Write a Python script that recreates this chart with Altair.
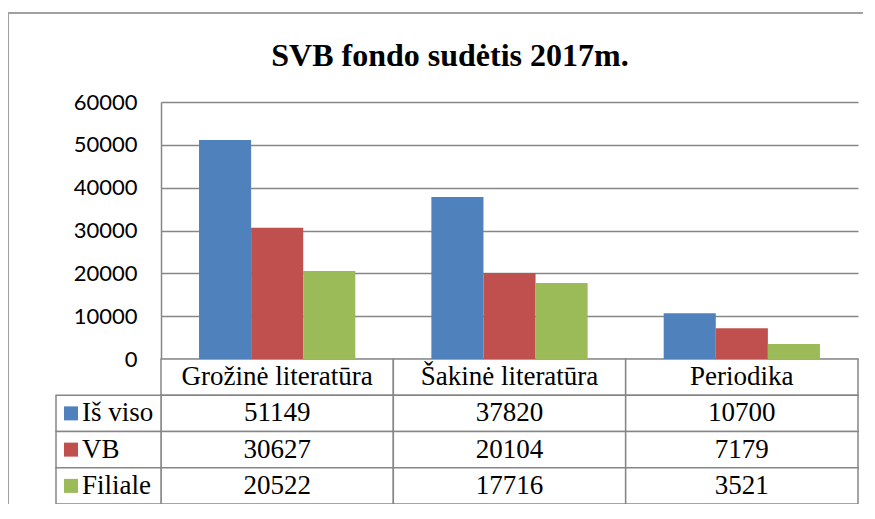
import altair as alt
import pandas as pd

title_text = "SVB fondo sudėtis 2017m."
categories = ["Grožinė literatūra", "Šakinė literatūra", "Periodika"]
series = ["Iš viso", "VB", "Filiale"]
is_viso = [51149, 37820, 10700]
vb = [30627, 20104, 7179]
filiale = [20522, 17716, 3521]
colors = ["#4f81bd", "#c0504d", "#9bbb59"]
y_ticks = [0, 10000, 20000, 30000, 40000, 50000, 60000]

rows = []
for s, vals in zip(series, [is_viso, vb, filiale]):
    for c, v in zip(categories, vals):
        rows.append({"cat": c, "series": s, "value": v})
df = pd.DataFrame(rows)

table_rows = []
for c in categories:
    table_rows.append({"cat": c, "row": "hdr", "label": c})
for r in rows:
    table_rows.append({"cat": r["cat"], "row": r["series"], "label": str(r["value"])})
tdf = pd.DataFrame(table_rows)
ldf = pd.DataFrame({"row": series, "label": series})

W, H = 697, 402
PLOT_H = 257
row_order = ["hdr"] + series
GRID = "#868686"
TFONT = "Liberation Serif"

x_enc = alt.X("cat:N", sort=categories,
              scale=alt.Scale(domain=categories, paddingInner=0, paddingOuter=0), axis=None)
y_tab = alt.Y("row:N", sort=row_order,
              scale=alt.Scale(type="band", domain=row_order, range=[PLOT_H, H],
                              paddingInner=0, paddingOuter=0), axis=None)

bars = alt.Chart(df).mark_bar().encode(
    x=x_enc,
    xOffset=alt.XOffset("series:N", sort=series,
                        scale=alt.Scale(domain=series, paddingOuter=0.73, paddingInner=0)),
    y=alt.Y("value:Q",
            scale=alt.Scale(domain=[0, 60000], range=[PLOT_H, 0], nice=False, zero=True),
            axis=alt.Axis(values=y_ticks, format="d", title=None, grid=True,
                          gridColor=GRID, gridWidth=1.5, domain=True, domainColor=GRID,
                          domainWidth=1.5, ticks=False, labelFont="Lato", labelFontSize=22,
                          labelColor="#000000", labelPadding=24)),
    color=alt.Color("series:N", sort=series,
                    scale=alt.Scale(domain=series, range=colors), legend=None),
)

cells = alt.Chart(tdf).mark_rect(fill="white", stroke=GRID, strokeWidth=1.5).encode(
    x=x_enc, y=y_tab)

cell_text = alt.Chart(tdf).mark_text(font=TFONT, fontSize=27, color="#000000",
                                     baseline="middle", align="center").encode(
    x=x_enc, y=y_tab, text="label:N")

leg_cells = alt.Chart(ldf).mark_rect(fill="white", stroke=GRID, strokeWidth=1.5).encode(
    x=alt.value(-105), x2=alt.value(0), y=y_tab)

leg_sq = alt.Chart(ldf).mark_square(size=196, opacity=1).encode(
    x=alt.value(-90), y=y_tab,
    color=alt.Color("row:N", scale=alt.Scale(domain=series, range=colors), legend=None))

leg_text = alt.Chart(ldf).mark_text(font=TFONT, fontSize=27, color="#000000",
                                    baseline="middle", align="left").encode(
    x=alt.value(-79), y=y_tab, text="label:N")

frame = pd.DataFrame({"a": [0]})
border_top = alt.Chart(frame).mark_rect(fill="#a0a0a0", strokeWidth=0).encode(
    x=alt.value(-153), x2=alt.value(702), y=alt.value(-90), y2=alt.value(-88))
border_left = alt.Chart(frame).mark_rect(fill="#a0a0a0", strokeWidth=0).encode(
    x=alt.value(-154), x2=alt.value(-152), y=alt.value(-90), y2=alt.value(402))

title = alt.Chart(pd.DataFrame({"t": [title_text]})).mark_text(
    font=TFONT, fontSize=32, fontWeight="bold", color="#000000",
    baseline="middle", align="center").encode(
    x=alt.value(289), y=alt.value(-46), text="t:N")

chart = alt.layer(
    border_top, border_left, title, cells, leg_cells, bars, cell_text, leg_sq, leg_text
).resolve_scale(y="independent", color="independent").properties(
    width=W, height=H,
    autosize=alt.AutoSizeParams(type="none"),
    padding={"left": 153, "top": 94, "right": 5, "bottom": 0},
).configure_view(stroke=None)

chart.save("out.html", embed_options={"renderer": "svg", "actions": False})
